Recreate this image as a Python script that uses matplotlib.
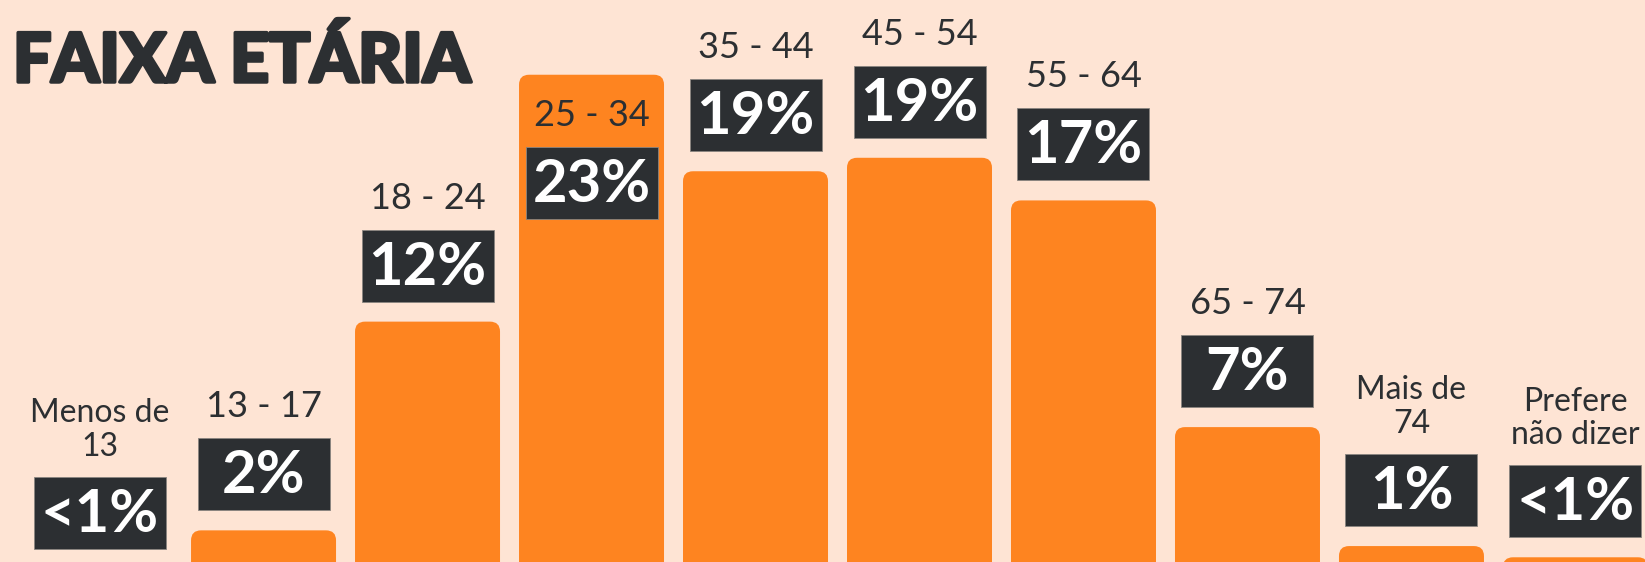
import matplotlib.pyplot as plt
import matplotlib.patheffects as pe
from matplotlib.patches import FancyBboxPatch, Rectangle

# data
categories = ["Menos de\n13", "13 - 17", "18 - 24", "25 - 34", "35 - 44",
              "45 - 54", "55 - 64", "65 - 74", "Mais de\n74", "Prefere\nnão dizer"]
pct_labels = ["<1%", "2%", "12%", "23%", "19%", "19%", "17%", "7%", "1%", "<1%"]
bar_heights = [1.0, 2.7, 12.0, 23.0, 18.7, 19.3, 17.4, 7.3, 2.0, 1.5]

BG = "#FEE4D4"
ORANGE = "#FE8420"
DARK = "#2C2F32"

W_PX, H_PX = 1645, 562
fig = plt.figure(figsize=(W_PX / 100, H_PX / 100), dpi=100, facecolor=BG)
ax = fig.add_axes([0, 0, 1, 1])
ax.set_facecolor(BG)
ax.axis("off")

x0, x1 = -0.607, 9.424
y0, y1 = 1.29, 26.33
ax.set_xlim(x0, x1)
ax.set_ylim(y0, y1)
px_x = W_PX / (x1 - x0)   # pixels per x unit
px_y = H_PX / (y1 - y0)   # pixels per y unit

xs = list(range(len(categories)))
bars = ax.bar(xs, bar_heights, width=145 / px_x, color=ORANGE)

# swap the plain rectangles for ones with rounded corners
radius = 10
for b in bars:
    b.set_visible(False)
    fb = FancyBboxPatch((b.get_x(), b.get_y() - 5), b.get_width(), b.get_height() + 5,
                        boxstyle=f"round,pad=0,rounding_size={radius / px_x}",
                        mutation_aspect=px_x / px_y,
                        facecolor=ORANGE, edgecolor="none", zorder=2)
    ax.add_patch(fb)

box_w = 132 / px_x
box_h = 72 / px_y
for x, h, cat, pct in zip(xs, bar_heights, categories, pct_labels):
    top_px = (y1 - h) * px_y
    if top_px < 120:
        # no room above the bar: put label inside it
        box_bot = h - (72 + 72) / px_y
    else:
        box_bot = h + 20 / px_y
    ax.add_patch(Rectangle((x - box_w / 2, box_bot), box_w, box_h,
                           facecolor=DARK, edgecolor="#8a8580", linewidth=0.6, zorder=3))
    ax.text(x, box_bot + box_h / 2 - 2 / px_y, pct, ha="center", va="center",
            color="white", fontsize=43, fontweight="bold", family="Lato", zorder=4)
    two_lines = "\n" in cat
    ax.text(x, box_bot + box_h + 15 / px_y, cat, ha="center", va="bottom",
            color=DARK, fontsize=23 if two_lines else 26, family="Lato",
            linespacing=1.15, zorder=4)

fig.text(13 / W_PX, 1 - 82 / H_PX, "FAIXA ETÁRIA", ha="left", va="baseline",
         color=DARK, fontsize=49, fontweight="black", family="Lato",
         path_effects=[pe.withStroke(linewidth=2.5, foreground=DARK)])

fig.savefig("out.png", dpi=100, facecolor=BG)
